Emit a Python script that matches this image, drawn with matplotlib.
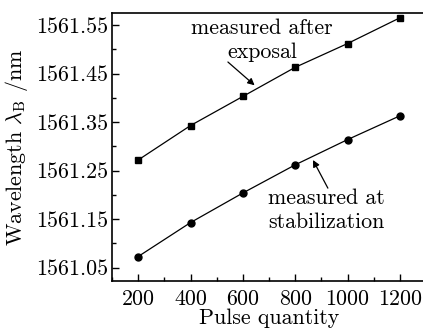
import matplotlib
matplotlib.use("Agg")
import matplotlib.pyplot as plt
from matplotlib.ticker import MultipleLocator

plt.rcParams['font.family'] = 'cmr10'
plt.rcParams['mathtext.fontset'] = 'cm'
plt.rcParams['axes.unicode_minus'] = False

pulses = [200, 400, 600, 800, 1000, 1200]
after_exposal = [1561.272, 1561.343, 1561.403, 1561.463, 1561.512, 1561.565]
at_stabilization = [1561.073, 1561.143, 1561.204, 1561.262, 1561.314, 1561.363]
yticks = [1561.05, 1561.15, 1561.25, 1561.35, 1561.45, 1561.55]

fig = plt.figure(figsize=(4.23, 3.34), dpi=100)
ax = fig.add_axes([112 / 423, 1 - 281 / 334, 314 / 423, 268 / 334])

ax.plot(pulses, after_exposal, 'k-', marker='s', markersize=4.5, linewidth=0.9)
ax.plot(pulses, at_stabilization, 'k-', marker='o', markersize=5, linewidth=0.9)

ax.set_xlim(100, 1300)
ax.set_ylim(1561.0226, 1561.575)
ax.set_xticks(pulses)
ax.set_yticks(yticks)
ax.set_yticklabels(['%.2f' % v for v in yticks])
ax.xaxis.set_minor_locator(MultipleLocator(100))
ax.yaxis.set_minor_locator(MultipleLocator(0.05))
ax.tick_params(which='both', direction='in', labelsize=15.8, width=1)
ax.tick_params(which='major', length=5)
ax.tick_params(which='minor', length=3)
ax.tick_params(axis='x', pad=6)
ax.tick_params(axis='y', pad=3)
for s in ax.spines.values():
    s.set_linewidth(1.2)

ax.set_xlabel('Pulse quantity', fontsize=15.8, labelpad=0)
ax.set_ylabel(r'Wavelength $\lambda_{\rm B}$ /nm', fontsize=15.8, labelpad=4)

ax.text(673, 1561.519, 'measured after\nexposal', ha='center', va='center',
        fontsize=15.8, linespacing=1.3)
ax.annotate('', xy=(645, 1561.426), xytext=(543, 1561.474),
            arrowprops=dict(arrowstyle='-|>', color='k', lw=0.9,
                            shrinkA=0, shrinkB=0, mutation_scale=10))
ax.text(920, 1561.169, 'measured at\nstabilization', ha='center', va='center',
        fontsize=15.8, linespacing=1.3)
ax.annotate('', xy=(868, 1561.272), xytext=(925, 1561.214),
            arrowprops=dict(arrowstyle='-|>', color='k', lw=0.9,
                            shrinkA=0, shrinkB=0, mutation_scale=10))

fig.savefig('out.png', dpi=100)
